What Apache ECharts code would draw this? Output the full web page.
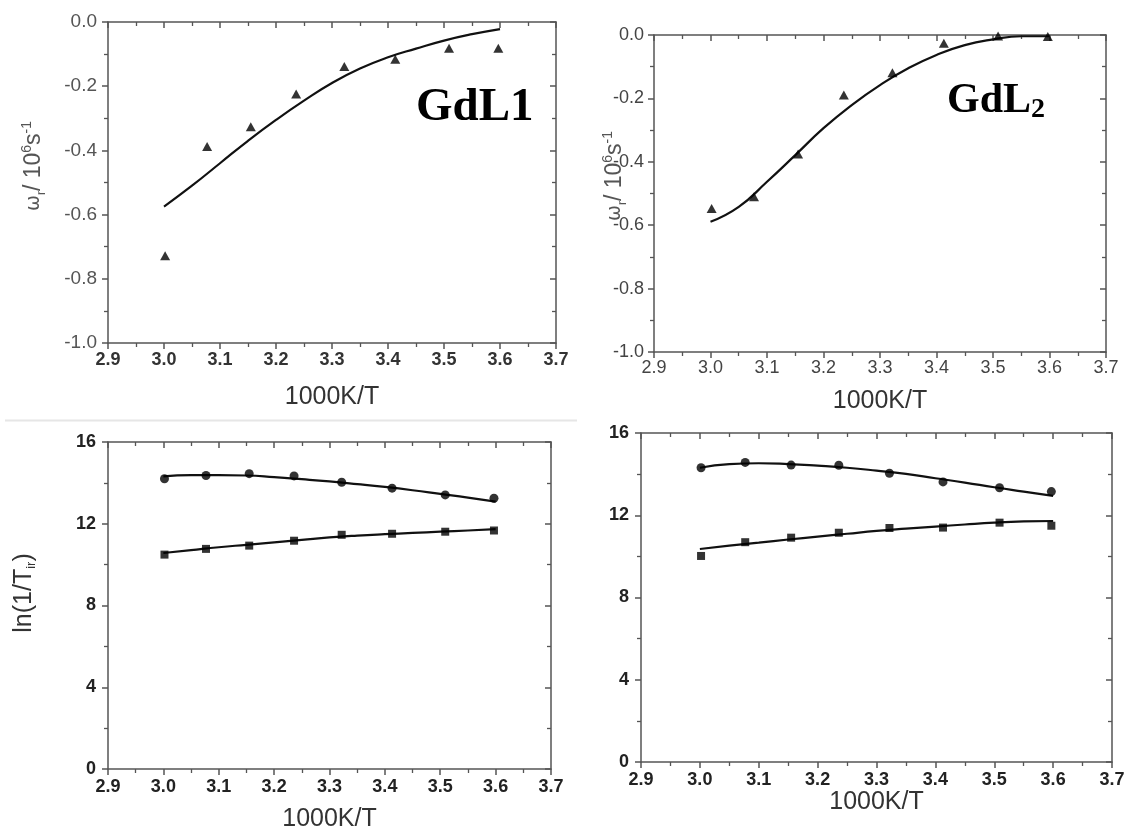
<!DOCTYPE html>
<html><head><meta charset="utf-8">
<script src="https://cdn.jsdelivr.net/npm/echarts@6/dist/echarts.min.js"></script>
<style>html,body{margin:0;padding:0;background:#fff}#c{width:1128px;height:833px}</style>
</head><body><div id="c"></div>
<script>
// ---- data ----
const tempX = [3.002, 3.077, 3.155, 3.236, 3.322, 3.413, 3.509, 3.597];
const fitX = [3.0, 3.05, 3.1, 3.15, 3.2, 3.25, 3.3, 3.35, 3.4, 3.45, 3.5, 3.55, 3.6];

const gdl1Omega = [-0.728, -0.388, -0.326, -0.224, -0.139, -0.116, -0.082, -0.082];
const gdl1OmegaFit = [-0.575, -0.51, -0.44, -0.37, -0.305, -0.245, -0.19, -0.145, -0.11, -0.083, -0.058, -0.038, -0.022];

const gdl2Omega = [-0.547, -0.510, -0.375, -0.189, -0.119, -0.026, -0.003, -0.005];
const gdl2OmegaFit = [-0.589, -0.542, -0.463, -0.379, -0.294, -0.221, -0.158, -0.105, -0.063, -0.032, -0.014, -0.004, -0.004];

const gdl1LnCircle = [14.2, 14.36, 14.45, 14.34, 14.03, 13.74, 13.41, 13.25];
const gdl1LnCircleFit = [14.32, 14.38, 14.38, 14.36, 14.28, 14.18, 14.07, 13.94, 13.8, 13.64, 13.46, 13.28, 13.08];
const gdl1LnSquare = [10.49, 10.77, 10.93, 11.17, 11.46, 11.51, 11.61, 11.67];
const gdl1LnSquareFit = [10.57, 10.71, 10.85, 10.97, 11.09, 11.21, 11.33, 11.42, 11.49, 11.55, 11.61, 11.67, 11.74];

const gdl2LnCircle = [14.31, 14.57, 14.44, 14.43, 14.04, 13.62, 13.34, 13.15];
const gdl2LnCircleFit = [14.31, 14.49, 14.53, 14.49, 14.41, 14.31, 14.17, 14.01, 13.8, 13.59, 13.36, 13.15, 12.94];
const gdl2LnSquare = [10.02, 10.69, 10.91, 11.15, 11.38, 11.40, 11.64, 11.49];
const gdl2LnSquareFit = [10.36, 10.52, 10.67, 10.82, 10.96, 11.1, 11.24, 11.35, 11.45, 11.55, 11.64, 11.7, 11.72];

const xName = '1000K/T';

// ---- layout ----
const FONT = '"Liberation Sans", Arial, sans-serif';
const SERIF = '"Liberation Serif", "Times New Roman", serif';
const AX = '#555';
const panels = [
  {grid:{left:108, top:22, width:448, height:321}, ymin:-1, ymax:0, yint:0.2, ydec:1,
   yl:{size:19, weight:'normal', color:'#555', margin:11}, xl:{size:18, weight:'bold', color:'#333', margin:8}, gap:42},
  {grid:{left:654, top:35, width:452, height:317}, ymin:-1, ymax:0, yint:0.2, ydec:1,
   yl:{size:18, weight:'normal', color:'#444', margin:10}, xl:{size:18, weight:'normal', color:'#444', margin:7}, gap:37},
  {grid:{left:108, top:442, width:443, height:328}, ymin:0, ymax:16, yint:4, ydec:0,
   yl:{size:18, weight:'bold', color:'#222', margin:12}, xl:{size:18, weight:'bold', color:'#222', margin:9}, gap:38},
  {grid:{left:641, top:433, width:471, height:329}, ymin:0, ymax:16, yint:4, ydec:0,
   yl:{size:18, weight:'bold', color:'#222', margin:12}, xl:{size:18, weight:'bold', color:'#222', margin:9}, gap:28}
];

const lineS = {color:AX, width:1.5};
const grids = [], xAxes = [], yAxes = [];
panels.forEach((p, i) => {
  grids.push(Object.assign({containLabel:false}, p.grid));
  const common = {gridIndex:i, type:'value', splitLine:{show:false},
    axisLine:{show:true, onZero:false, lineStyle:lineS}};
  xAxes.push(Object.assign({}, common, {position:'bottom', min:2.9, max:3.7, interval:0.1,
    axisTick:{show:true, inside:false, length:6, lineStyle:lineS},
    minorTick:{show:true, splitNumber:2, length:4, lineStyle:{color:AX, width:1.3}},
    axisLabel:{show:true, margin:p.xl.margin, fontSize:p.xl.size, fontWeight:p.xl.weight, color:p.xl.color, fontFamily:FONT,
      formatter:v => v.toFixed(1)},
    name:xName, nameLocation:'middle', nameGap:p.gap,
    nameTextStyle:{fontSize:25, color:'#333', fontFamily:FONT}}));
  xAxes.push(Object.assign({}, common, {position:'top', min:2.9, max:3.7, interval:0.1,
    axisTick:{show:true, inside:true, length:6, lineStyle:lineS},
    minorTick:{show:true, splitNumber:2, length:4, lineStyle:{color:AX, width:1.3}},
    axisLabel:{show:false}}));
  yAxes.push(Object.assign({}, common, {position:'left', min:p.ymin, max:p.ymax, interval:p.yint,
    axisTick:{show:true, inside:false, length:6, lineStyle:lineS},
    minorTick:{show:true, splitNumber:2, length:4, lineStyle:{color:AX, width:1.3}},
    axisLabel:{show:true, margin:p.yl.margin, fontSize:p.yl.size, fontWeight:p.yl.weight, color:p.yl.color, fontFamily:FONT,
      formatter:v => (Math.abs(v) < 1e-9 ? 0 : v).toFixed(p.ydec)}}));
  yAxes.push(Object.assign({}, common, {position:'right', min:p.ymin, max:p.ymax, interval:p.yint,
    axisTick:{show:true, inside:true, length:6, lineStyle:lineS},
    minorTick:{show:true, splitNumber:2, length:4, lineStyle:{color:AX, width:1.3}},
    axisLabel:{show:false}}));
});

const pair = (xs, ys) => xs.map((x, k) => [x, ys[k]]);
const series = [];
function addFit(i, ys) {
  series.push({type:'line', xAxisIndex:2*i, yAxisIndex:2*i, data:pair(fitX, ys), smooth:0.5,
    showSymbol:false, symbol:'none', lineStyle:{color:'#111', width:2.2}, z:2, silent:true});
}
function addPts(i, ys, symbol, size) {
  series.push({type:'scatter', xAxisIndex:2*i, yAxisIndex:2*i, data:pair(tempX, ys), symbol:symbol,
    symbolSize:size, itemStyle:{color:'#000'}, z:3, silent:true});
}
addFit(0, gdl1OmegaFit); addPts(0, gdl1Omega, 'triangle', [10, 9]);
addFit(1, gdl2OmegaFit); addPts(1, gdl2Omega, 'triangle', [10, 9]);
addFit(2, gdl1LnCircleFit); addPts(2, gdl1LnCircle, 'circle', 9);
addFit(2, gdl1LnSquareFit); addPts(2, gdl1LnSquare, 'rect', 8);
addFit(3, gdl2LnCircleFit); addPts(3, gdl2LnCircle, 'circle', 9);
addFit(3, gdl2LnSquareFit); addPts(3, gdl2LnSquare, 'rect', 8);

const omegaRich = {
  m:{fontSize:23, fontFamily:FONT, fill:'#555', color:'#555', lineHeight:28},
  w:{fontSize:19, fontFamily:'"DejaVu Sans", sans-serif', fill:'#555', color:'#555', lineHeight:28},
  sub:{fontSize:12, fontFamily:FONT, fill:'#555', color:'#555', verticalAlign:'bottom', lineHeight:12},
  sup:{fontSize:14, fontFamily:FONT, fill:'#555', color:'#555', verticalAlign:'top', lineHeight:14}
};
const omegaText = '{w|ω}{sub|r}{m|/ 10}{sup|6}{m|s}{sup|-1}';

const graphic = [
  {type:'line', shape:{x1:5, y1:420.5, x2:577, y2:420.5}, style:{stroke:'#e6e6e6', lineWidth:2}, silent:true},
  {type:'text', x:416, y:108, style:{text:'GdL1', fontSize:47, fontWeight:'bold', fontFamily:SERIF, fill:'#000',
    align:'left', verticalAlign:'middle'}},
  {type:'text', x:947, y:101, style:{text:'{a|GdL}{s|2}', align:'left', verticalAlign:'middle',
    rich:{a:{fontSize:42, fontWeight:'bold', fontFamily:SERIF, fill:'#000', color:'#000', lineHeight:46},
          s:{fontSize:28, fontWeight:'bold', fontFamily:SERIF, fill:'#000', color:'#000', verticalAlign:'bottom', lineHeight:32}}}},
  {type:'text', x:34, y:166, rotation:Math.PI/2, style:{text:omegaText, rich:omegaRich, align:'center', verticalAlign:'middle'}},
  {type:'text', x:615, y:176, rotation:Math.PI/2, style:{text:omegaText, rich:omegaRich, align:'center', verticalAlign:'middle'}},
  {type:'text', x:24, y:593, rotation:Math.PI/2, style:{text:'{m|ln(1/T}{sub|ir}{m|)}', align:'center', verticalAlign:'middle',
    rich:{m:{fontSize:25, fontFamily:FONT, fill:'#333', color:'#333', lineHeight:28},
          sub:{fontSize:13, fontFamily:FONT, fill:'#333', color:'#333', verticalAlign:'bottom', lineHeight:13}}}}
];

const chart = echarts.init(document.getElementById('c'), null, {renderer:'canvas'});
chart.setOption({animation:false, backgroundColor:'#fff', grid:grids, xAxis:xAxes, yAxis:yAxes, series:series, graphic:graphic});
</script></body></html>
